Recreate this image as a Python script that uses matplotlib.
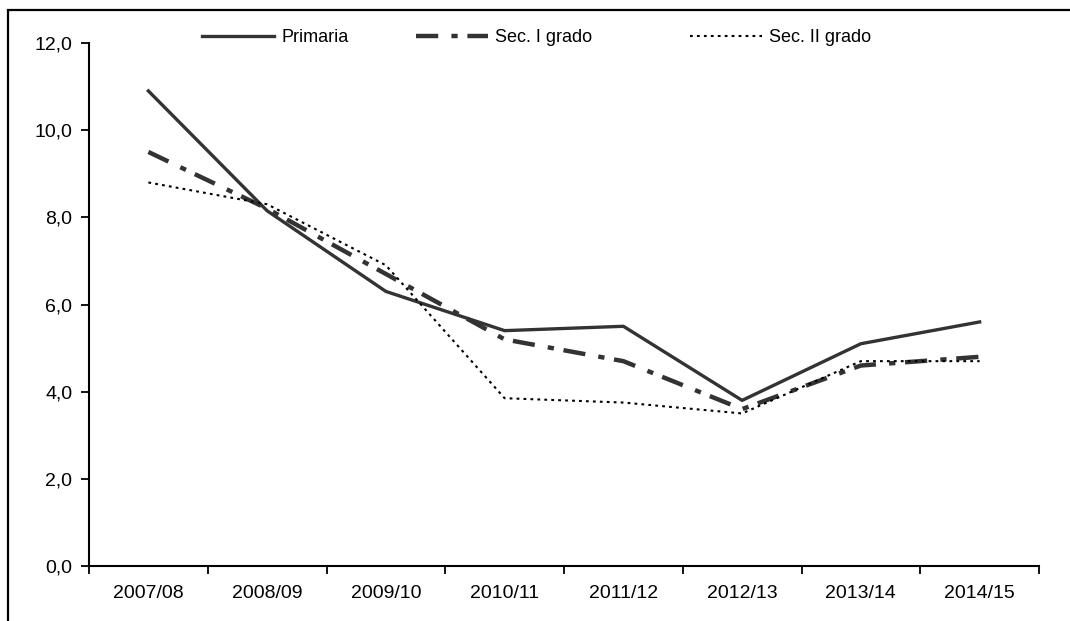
import matplotlib
matplotlib.use("Agg")
import matplotlib.pyplot as plt
from matplotlib.patches import Rectangle
from matplotlib.ticker import FuncFormatter

plt.rcParams['font.family'] = ['Liberation Sans', 'DejaVu Sans']
plt.rcParams['lines.scale_dashes'] = False

years = ["2007/08", "2008/09", "2009/10", "2010/11", "2011/12", "2012/13", "2013/14", "2014/15"]
primaria = [10.9, 8.15, 6.3, 5.4, 5.5, 3.8, 5.1, 5.6]
sec_i = [9.5, 8.2, 6.7, 5.2, 4.7, 3.6, 4.6, 4.8]
sec_ii = [8.8, 8.3, 6.9, 3.85, 3.75, 3.5, 4.7, 4.7]
labels = ["Primaria", "Sec. I grado", "Sec. II grado"]

W, H = 1070, 621
fig = plt.figure(figsize=(W / 100, H / 100), dpi=100)
fig.patches.append(Rectangle((8 / W, -0.1), 1.2, 1 - 10 / H + 0.1,
                             transform=fig.transFigure, fill=False,
                             edgecolor='black', linewidth=1.6))
ax = fig.add_axes([89 / W, 1 - 566 / H, (1039 - 89) / W, (566 - 43) / H])

x = list(range(len(years)))
l1, = ax.plot(x, primaria, color='#333333', linewidth=2.4, label=labels[0])
l2, = ax.plot(x, sec_i, color='#333333', linewidth=3.2, linestyle=(0, (16, 9.5, 4.5, 7)), label=labels[1])
l3, = ax.plot(x, sec_ii, color='black', linewidth=1.5, linestyle=(0, (2, 3)), label=labels[2])

ax.set_xlim(-0.5, len(years) - 0.5)
ax.set_ylim(0, 12)
ax.set_yticks([0, 2, 4, 6, 8, 10, 12])
ax.yaxis.set_major_formatter(FuncFormatter(lambda v, p: f"{v:.1f}".replace('.', ',')))
ax.set_xticks([i - 0.5 for i in range(len(years) + 1)], minor=False)
ax.set_xticklabels([])
ax.set_xticks(x, minor=True)
ax.set_xticklabels(years, minor=True)
ax.tick_params(axis='x', which='major', direction='out', length=6, width=1.3, color='black')
ax.tick_params(axis='x', which='minor', length=0, pad=14, labelsize=14)
ax.tick_params(axis='y', direction='out', length=6, width=1.3, labelsize=14, pad=6)

for s in ['top', 'right']:
    ax.spines[s].set_visible(False)
for s in ['left', 'bottom']:
    ax.spines[s].set_linewidth(1.5)
    ax.spines[s].set_color('black')

# separate legend entries placed like the reference
starts = [202, 416, 690]
for h, lab, xs in zip([l1, l2, l3], labels, starts):
    lg = fig.legend(handles=[h], labels=[lab], loc='center left',
                    bbox_to_anchor=(xs / W, 1 - 38 / H), frameon=False,
                    fontsize=13, handlelength=4.0, handletextpad=0.4,
                    borderpad=0, borderaxespad=0)

fig.savefig("out.png", dpi=100)
